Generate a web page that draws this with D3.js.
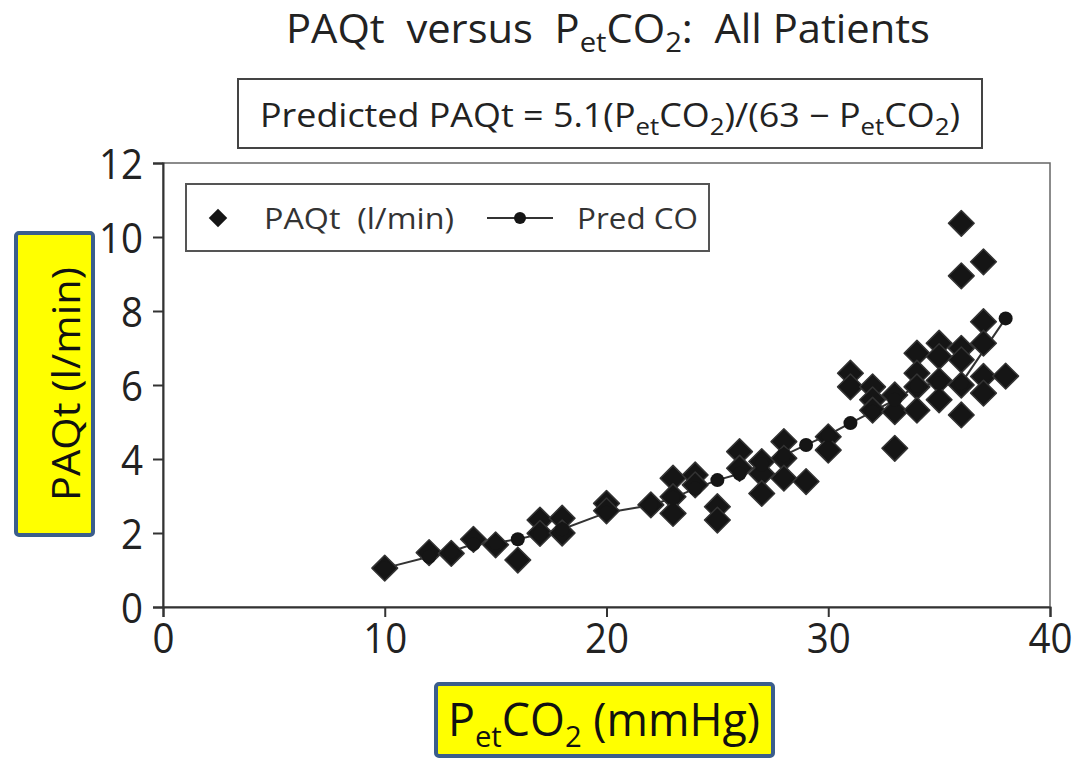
<!DOCTYPE html>
<html><head><meta charset="utf-8">
<script src="https://cdn.jsdelivr.net/npm/d3@7"></script>
<style>body{margin:0;background:#fff}svg{display:block}</style>
</head><body>
<svg id="c" width="1078" height="759"></svg>
<script>
// ---- data ----
const xTicks = [0, 10, 20, 30, 40];
const yTicks = [0, 2, 4, 6, 8, 10, 12];
const paqtX = [10,12,13,14,15,16,17,17,18,18,20,20,22,23,23,23,24,24,25,25,26,26,27,27,27,28,28,28,29,30,30,
               31,31,32,32,32,33,33,33,34,34,34,34,35,35,35,35,36,36,36,36,36,36,37,37,37,37,37,38];
const paqtY = [1.05,1.47,1.45,1.83,1.68,1.27,2.35,1.99,2.4,2.0,2.8,2.6,2.76,3.48,2.98,2.53,3.57,3.3,2.71,2.35,4.2,3.75,3.93,3.6,3.07,4.47,4.02,3.48,3.39,4.6,4.24,
               6.32,5.95,5.95,5.6,5.32,5.73,5.28,4.29,6.86,6.32,5.95,5.32,7.13,6.77,6.12,5.6,10.37,8.95,6.99,6.68,6.0,5.19,9.33,7.71,7.13,6.23,5.78,6.24];
const predX = [10,12,13,14,15,16,17,18,20,22,23,24,25,26,27,28,29,30,31,32,33,34,35,36,38];
const predY = [1.05,1.36,1.5,1.7,1.74,1.83,1.97,2.1,2.55,2.75,2.95,3.2,3.43,3.6,3.85,4.1,4.38,4.65,4.97,5.28,5.6,5.98,6.05,6.05,7.8];
const legendLabels = ["PAQt  (l/min)", "Pred CO"];

// ---- layout ----
const svg = d3.select("#c");
const FONT = "'Open Sans', 'Liberation Sans', sans-serif";
const x = d3.scaleLinear().domain([0, 40]).range([163, 1050]);
const y = d3.scaleLinear().domain([0, 12]).range([607, 163]);

function rich(g, parts, subSize, shift) {
  parts.forEach(p => {
    const t = g.append("tspan").text(p[0]);
    if (p[1]) t.attr("font-size", subSize).attr("dy", shift);
    else if (p[2]) t.attr("dy", -shift);
  });
}

// title
const title = svg.append("text").attr("x", 608).attr("y", 43).attr("text-anchor", "middle")
  .attr("font-family", FONT).attr("font-size", 40).attr("fill", "#222")
  .attr("textLength", 644).attr("lengthAdjust", "spacingAndGlyphs").attr("xml:space", "preserve");
rich(title, [["PAQt  versus  P"], ["et", true], ["CO", false, true], ["2", true], [":  All Patients", false, true]], 28, 9);

// formula box
svg.append("rect").attr("x", 238).attr("y", 79).attr("width", 744).attr("height", 69)
  .attr("fill", "none").attr("stroke", "#444").attr("stroke-width", 2);
const ft = svg.append("text").attr("x", 260).attr("y", 127)
  .attr("font-family", FONT).attr("font-size", 32).attr("fill", "#222")
  .attr("textLength", 700).attr("lengthAdjust", "spacingAndGlyphs");
rich(ft, [["Predicted PAQt = 5.1(P"], ["et", true], ["CO", false, true], ["2", true], [")/(63 \u2212 P", false, true], ["et", true], ["CO", false, true], ["2", true], [")", false, true]], 23, 8);

// plot frame
svg.append("rect").attr("x", 163).attr("y", 163).attr("width", 887).attr("height", 444)
  .attr("fill", "none").attr("stroke", "#666").attr("stroke-width", 1.5);

// axes
const xAxis = svg.append("g").attr("transform", "translate(0,607)")
  .call(d3.axisBottom(x).tickValues(xTicks).tickSize(10).tickPadding(6).tickFormat(d3.format("d")));
const yAxis = svg.append("g").attr("transform", "translate(163,0)")
  .call(d3.axisLeft(y).tickValues(yTicks).tickSize(10).tickPadding(10).tickFormat(d3.format("d")));
[xAxis, yAxis].forEach(a => {
  a.select(".domain").attr("stroke", "#333").attr("stroke-width", 2);
  a.selectAll(".tick line").attr("stroke", "#333").attr("stroke-width", 2);
  a.selectAll(".tick text").attr("font-family", FONT).attr("font-size", 42).attr("fill", "#222")
    .attr("textLength", d => String(d).length * 22).attr("lengthAdjust", "spacingAndGlyphs");
});
yAxis.selectAll(".tick text").attr("dy", "0.36em");

// pred line
svg.append("path")
  .datum(predX.map((v, i) => [v, predY[i]]))
  .attr("fill", "none").attr("stroke", "#333").attr("stroke-width", 2)
  .attr("d", d3.line().x(d => x(d[0])).y(d => y(d[1])));

// diamonds
const diamond = d3.symbol().type(d3.symbolSquare).size(330);
svg.append("g").selectAll("path").data(paqtX.map((v, i) => [v, paqtY[i]])).join("path")
  .attr("d", diamond)
  .attr("transform", d => `translate(${x(d[0])},${y(d[1])}) rotate(45)`)
  .attr("fill", "#151515").attr("stroke", "#333").attr("stroke-width", 1.5).attr("stroke-linejoin", "round");

// pred dots
svg.append("g").selectAll("circle").data(predX.map((v, i) => [v, predY[i]])).join("circle")
  .attr("cx", d => x(d[0])).attr("cy", d => y(d[1])).attr("r", 7).attr("fill", "#151515");

// legend
svg.append("rect").attr("x", 186).attr("y", 184).attr("width", 523).attr("height", 67)
  .attr("fill", "#fff").attr("stroke", "#555").attr("stroke-width", 2);
svg.append("path").attr("d", d3.symbol().type(d3.symbolSquare).size(170))
  .attr("transform", "translate(218,218) rotate(45)").attr("fill", "#151515");
svg.append("text").attr("x", 264).attr("y", 229).attr("font-family", FONT).attr("font-size", 30).attr("fill", "#333")
  .attr("textLength", 190).attr("lengthAdjust", "spacingAndGlyphs").attr("xml:space", "preserve").text(legendLabels[0]);
svg.append("line").attr("x1", 487).attr("x2", 553).attr("y1", 218).attr("y2", 218).attr("stroke", "#333").attr("stroke-width", 2);
svg.append("circle").attr("cx", 520).attr("cy", 218).attr("r", 6).attr("fill", "#151515");
svg.append("text").attr("x", 577).attr("y", 229).attr("font-family", FONT).attr("font-size", 30).attr("fill", "#333")
  .attr("textLength", 121).attr("lengthAdjust", "spacingAndGlyphs").text(legendLabels[1]);

// y label box
svg.append("rect").attr("x", 16).attr("y", 233).attr("width", 77).attr("height", 302).attr("rx", 3)
  .attr("fill", "#ffff00").attr("stroke", "#3b5e8c").attr("stroke-width", 4);
svg.append("text").attr("transform", "translate(80,384) rotate(-90)").attr("text-anchor", "middle")
  .attr("font-family", FONT).attr("font-size", 38).attr("fill", "#111")
  .attr("textLength", 234).attr("lengthAdjust", "spacingAndGlyphs").text("PAQt (l/min)");

// x label box
svg.append("rect").attr("x", 436).attr("y", 684).attr("width", 337).attr("height", 72).attr("rx", 3)
  .attr("fill", "#ffff00").attr("stroke", "#3b5e8c").attr("stroke-width", 4);
const xl = svg.append("text").attr("x", 448).attr("y", 736)
  .attr("font-family", FONT).attr("font-size", 46).attr("fill", "#111")
  .attr("textLength", 312).attr("lengthAdjust", "spacingAndGlyphs").attr("xml:space", "preserve");
rich(xl, [["P"], ["et", true], ["CO", false, true], ["2", true], [" (mmHg)", false, true]], 30, 11);
</script>
</body></html>
